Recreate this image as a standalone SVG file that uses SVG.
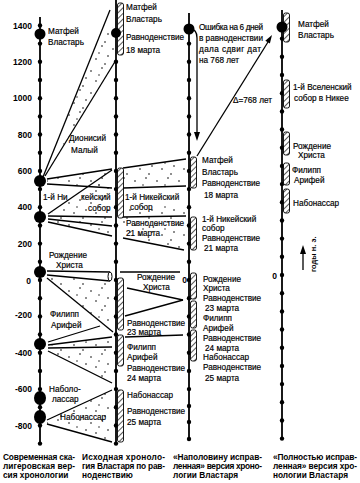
<svg xmlns="http://www.w3.org/2000/svg" width="360" height="483" viewBox="0 0 360 483">
<defs>
<pattern id="hatch" patternUnits="userSpaceOnUse" width="4" height="4" patternTransform="rotate(45)">
<rect width="4" height="4" fill="#fff"/><line x1="0" y1="0" x2="0" y2="4" stroke="#000" stroke-width="1.3"/>
</pattern>
<pattern id="stip" patternUnits="userSpaceOnUse" width="22" height="22">
<circle cx="3" cy="5" r="0.8"/><circle cx="14" cy="2" r="0.8"/><circle cx="20" cy="12" r="0.8"/><circle cx="8" cy="15" r="0.8"/><circle cx="17" cy="20" r="0.8"/><circle cx="11" cy="9" r="0.7"/>
</pattern>
<g id="tk"><circle r="2.2" fill="#000"/></g>
</defs>
<style>
.ax{stroke:#000;stroke-width:1.8;fill:none}
.wl{stroke:#000;stroke-width:1.3;fill:none}
.st{fill:url(#stip);stroke:none}
.hb{fill:url(#hatch);stroke:#000;stroke-width:0.9}
.big{fill:#000}
text{font-family:"Liberation Sans",Arial,sans-serif;fill:#000}
.t{font-size:8.2px;stroke:#000;stroke-width:0.18}
.yr{font-size:8.5px;font-weight:bold;text-anchor:end}
.cap{font-size:8.3px;font-weight:bold}
</style>
<rect width="360" height="483" fill="#fff"/>

<g id="connectors">
<polygon class="st" points="110,10 116,60 44,176"/>
<line class="wl" x1="110" y1="10" x2="43" y2="177"/>
<line class="wl" x1="116" y1="60" x2="45" y2="176"/>
<polygon class="st" points="47,179 112,169 112,188 47,184"/>
<line class="wl" x1="47" y1="179" x2="112" y2="169"/>
<line class="wl" x1="47" y1="184" x2="112" y2="188"/>
<polygon class="st" points="52,212 112,172 112,216 60,216"/>
<line class="wl" x1="48" y1="214" x2="112" y2="170"/>
<polygon class="st" points="48,217 112,217 112,236 48,222"/>
<line class="wl" x1="48" y1="216" x2="112" y2="217"/>
<line class="wl" x1="48" y1="219" x2="112" y2="226"/>
<line class="wl" x1="48" y1="222" x2="112" y2="236"/>
<polygon class="st" points="47,276 110,281 113,332 47,278"/>
<line class="wl" x1="47" y1="271" x2="110" y2="272"/>
<line class="wl" x1="47" y1="275" x2="110" y2="281"/>
<ellipse cx="110" cy="276.5" rx="2" ry="4.5" fill="#fff" stroke="#000" stroke-width="1"/>
<line class="wl" x1="47" y1="278" x2="113" y2="332"/>
<polygon class="st" points="48,346 112,338 112,383 48,351"/>
<line class="wl" x1="48" y1="342" x2="100" y2="326"/>
<line class="wl" x1="48" y1="345" x2="112" y2="337"/>
<line class="wl" x1="48" y1="348" x2="112" y2="347"/>
<line class="wl" x1="48" y1="351" x2="112" y2="383"/>
<polygon class="st" points="47,420 112,390 112,442 47,424"/>
<line class="wl" x1="47" y1="420" x2="112" y2="390"/>
<line class="wl" x1="47" y1="424" x2="112" y2="442"/>
<polygon class="st" points="123,168 186,159 186,186 123,188"/>
<line class="wl" x1="123" y1="168" x2="186" y2="159"/>
<line class="wl" x1="123" y1="188" x2="186" y2="186"/>
<polygon class="st" points="123,204 186,204 186,250 123,238"/>
<line class="wl" x1="123" y1="217" x2="186" y2="216"/>
<line class="wl" x1="123" y1="238" x2="184" y2="250"/>
<line class="wl" x1="120" y1="272" x2="180" y2="272"/>
<line class="wl" x1="127" y1="288" x2="183" y2="300"/>
<line class="wl" x1="125" y1="316" x2="183" y2="300"/>
<line class="wl" x1="125" y1="337" x2="183" y2="335"/>
<path class="wl" d="M190,29 Q197,29 197,38 L197,134"/>
<polygon points="194,132 200,132 197,141"/>
<line class="wl" x1="197" y1="156" x2="268" y2="42"/>
<polygon points="272,35 269.9,43.6 265.3,40.8"/>
<line class="wl" x1="303" y1="270" x2="303" y2="252"/>
<polygon points="300,254 306,254 303,245"/>
</g>

<g id="axis1">
<line class="ax" x1="40" y1="17" x2="40" y2="443.6"/>
<use href="#tk" x="40" y="25.5"/><use href="#tk" x="40" y="43.6"/><use href="#tk" x="40" y="61.8"/><use href="#tk" x="40" y="80"/><use href="#tk" x="40" y="98.2"/><use href="#tk" x="40" y="116.4"/><use href="#tk" x="40" y="134.5"/><use href="#tk" x="40" y="152.7"/><use href="#tk" x="40" y="170.9"/><use href="#tk" x="40" y="189.1"/><use href="#tk" x="40" y="207.3"/><use href="#tk" x="40" y="225.5"/><use href="#tk" x="40" y="243.6"/><use href="#tk" x="40" y="261.8"/><use href="#tk" x="40" y="280"/><use href="#tk" x="40" y="298.2"/><use href="#tk" x="40" y="316.4"/><use href="#tk" x="40" y="334.5"/><use href="#tk" x="40" y="352.7"/><use href="#tk" x="40" y="370.9"/><use href="#tk" x="40" y="389.1"/><use href="#tk" x="40" y="407.3"/><use href="#tk" x="40" y="425.5"/><use href="#tk" x="40" y="443.6"/>
<circle class="big" cx="40" cy="34" r="5.5"/>
<circle class="big" cx="40" cy="181" r="6"/>
<circle class="big" cx="40" cy="217" r="6"/>
<circle class="big" cx="40" cy="272" r="6"/>
<circle class="big" cx="40" cy="344" r="6"/>
<ellipse class="big" cx="40" cy="398" rx="6" ry="7"/>
<ellipse class="big" cx="40" cy="417" rx="6" ry="7"/>
<text class="yr" x="32" y="28.5">1400</text>
<text class="yr" x="32" y="64.8">1200</text>
<text class="yr" x="32" y="101.2">1000</text>
<text class="yr" x="32" y="137.5">800</text>
<text class="yr" x="32" y="173.9">600</text>
<text class="yr" x="32" y="210.3">400</text>
<text class="yr" x="32" y="246.6">200</text>
<text class="yr" x="31" y="284">0</text>
<text class="yr" x="32" y="318">-200</text>
<text class="yr" x="32" y="356">-400</text>
<text class="yr" x="32" y="392">-600</text>
<text class="yr" x="32" y="428.5">-800</text>
<text class="t" x="48" y="34">Матфей</text>
<text class="t" x="48" y="45">Властарь</text>
<text class="t" x="69" y="141">Дионисий</text>
<text class="t" x="71" y="153">Малый</text>
<text class="t" x="43" y="200">1-й Ни</text>
<text class="t" x="81" y="200">кейский</text>
<text class="t" x="88" y="211">собор</text>
<text class="t" x="49" y="258">Рождение</text>
<text class="t" x="56" y="268">Христа</text>
<text class="t" x="50" y="317">Филипп</text>
<text class="t" x="51" y="328">Арифей</text>
<text class="t" x="49" y="392">Наболо-</text>
<text class="t" x="52" y="402">лассар</text>
<text class="t" x="60" y="420">Набонассар</text>
</g>

<g id="axis2">
<line class="ax" x1="116" y1="0" x2="116" y2="443.6"/>
<use href="#tk" x="116" y="61.8"/><use href="#tk" x="116" y="80"/><use href="#tk" x="116" y="98.2"/><use href="#tk" x="116" y="116.4"/><use href="#tk" x="116" y="134.5"/><use href="#tk" x="116" y="152.7"/><use href="#tk" x="116" y="170.9"/><use href="#tk" x="116" y="189.1"/><use href="#tk" x="116" y="207.3"/><use href="#tk" x="116" y="225.5"/><use href="#tk" x="116" y="243.6"/><use href="#tk" x="116" y="261.8"/><use href="#tk" x="116" y="280"/><use href="#tk" x="116" y="298.2"/><use href="#tk" x="116" y="316.4"/><use href="#tk" x="116" y="334.5"/><use href="#tk" x="116" y="352.7"/><use href="#tk" x="116" y="370.9"/><use href="#tk" x="116" y="389.1"/><use href="#tk" x="116" y="407.3"/><use href="#tk" x="116" y="425.5"/><use href="#tk" x="116" y="443.6"/>
<rect class="hb" x="117.5" y="3" width="6" height="52" rx="2"/>
<rect class="hb" x="117.5" y="168" width="6" height="50" rx="2"/>
<rect class="hb" x="117.5" y="278" width="6" height="52" rx="2"/>
<rect class="hb" x="117.5" y="335" width="6" height="31" rx="2"/>
<rect class="hb" x="117.5" y="390" width="6" height="52" rx="2"/>
<circle class="big" cx="116" cy="33" r="5"/>
<text class="t" x="126" y="10">Матфей</text>
<text class="t" x="126" y="22">Властарь</text>
<text class="t" x="126" y="40">Равноденствие</text>
<text class="t" x="126" y="53">18 марта</text>
<text class="t" x="125" y="200">1-й Никейский</text>
<text class="t" x="130" y="210">собор</text>
<text class="t" x="126" y="226">Равноденствие</text>
<text class="t" x="126" y="236">21 марта</text>
<text class="t" x="137" y="280">Рождение</text>
<text class="t" x="143" y="290">Христа</text>
<text class="t" x="127" y="326">Равноденствие</text>
<text class="t" x="127" y="335">23 марта</text>
<text class="t" x="127" y="350">Филипп</text>
<text class="t" x="127" y="360">Арифей</text>
<text class="t" x="127" y="371">Равноденствие</text>
<text class="t" x="127" y="381">24 марта</text>
<text class="t" x="127" y="398">Набонассар</text>
<text class="t" x="127" y="414">Равноденствие</text>
<text class="t" x="127" y="425">25 марта</text>
</g>

<g id="axis3">
<line class="ax" x1="189" y1="13" x2="189" y2="440"/>
<use href="#tk" x="189" y="43.6"/><use href="#tk" x="189" y="61.8"/><use href="#tk" x="189" y="80"/><use href="#tk" x="189" y="98.2"/><use href="#tk" x="189" y="116.4"/><use href="#tk" x="189" y="134.5"/><use href="#tk" x="189" y="152.7"/><use href="#tk" x="189" y="170.9"/><use href="#tk" x="189" y="189.1"/><use href="#tk" x="189" y="207.3"/><use href="#tk" x="189" y="225.5"/><use href="#tk" x="189" y="243.6"/><use href="#tk" x="189" y="261.8"/><use href="#tk" x="189" y="280"/><use href="#tk" x="189" y="298.2"/><use href="#tk" x="189" y="316.4"/><use href="#tk" x="189" y="334.5"/><use href="#tk" x="189" y="352.7"/><use href="#tk" x="189" y="370.9"/><use href="#tk" x="189" y="389.1"/><use href="#tk" x="189" y="406"/><use href="#tk" x="189" y="422"/><use href="#tk" x="189" y="439"/>
<rect class="hb" x="190.5" y="157" width="6" height="31" rx="2"/>
<rect class="hb" x="190.5" y="217" width="6" height="33" rx="2"/>
<rect class="hb" x="190.5" y="273" width="6" height="26" rx="2"/>
<rect class="hb" x="190.5" y="301" width="6" height="27" rx="2"/>
<rect class="hb" x="190.5" y="330" width="6" height="31" rx="2"/>
<circle class="big" cx="189" cy="29" r="5.5"/>
<text class="yr" x="187" y="283">0</text>
<text class="t" x="199" y="30" textLength="64" lengthAdjust="spacing">Ошибка на 6 дней</text>
<text class="t" x="199" y="41" textLength="64" lengthAdjust="spacing">в равноденствии</text>
<text class="t" x="199" y="52" textLength="62" lengthAdjust="spacing">дала сдвиг дат</text>
<text class="t" x="199" y="63">на 768 лет</text>
<text class="t" x="202" y="163">Матфей</text>
<text class="t" x="202" y="175">Властарь</text>
<text class="t" x="202" y="186">Равноденствие</text>
<text class="t" x="204" y="198">18 марта</text>
<text class="t" x="202" y="222">1-й Никейский</text>
<text class="t" x="202" y="231">собор</text>
<text class="t" x="202" y="241">Равноденствие</text>
<text class="t" x="204" y="251">21 марта</text>
<text class="t" x="203" y="282">Рождение</text>
<text class="t" x="203" y="291">Христа</text>
<text class="t" x="203" y="301">Равноденствие</text>
<text class="t" x="205" y="311">23 марта</text>
<text class="t" x="203" y="321">Филипп</text>
<text class="t" x="203" y="331">Арифей</text>
<text class="t" x="203" y="341">Равноденствие</text>
<text class="t" x="205" y="351">24 марта</text>
<text class="t" x="203" y="360">Набонассар</text>
<text class="t" x="203" y="370">Равноденствие</text>
<text class="t" x="205" y="381">25 марта</text>
<text class="t" x="233" y="103">Δ=768 лет</text>
</g>

<g id="axis4">
<line class="ax" x1="282" y1="10" x2="282" y2="440"/>
<use href="#tk" x="282" y="38.6"/><use href="#tk" x="282" y="56.8"/><use href="#tk" x="282" y="75"/><use href="#tk" x="282" y="93.2"/><use href="#tk" x="282" y="111.4"/><use href="#tk" x="282" y="129.5"/><use href="#tk" x="282" y="147.7"/><use href="#tk" x="282" y="165.9"/><use href="#tk" x="282" y="184.1"/><use href="#tk" x="282" y="202.3"/><use href="#tk" x="282" y="220.5"/><use href="#tk" x="282" y="238.6"/><use href="#tk" x="282" y="256.8"/><use href="#tk" x="282" y="275"/><use href="#tk" x="282" y="293.2"/><use href="#tk" x="282" y="311.4"/><use href="#tk" x="282" y="329.5"/><use href="#tk" x="282" y="347.7"/><use href="#tk" x="282" y="365.9"/><use href="#tk" x="282" y="384.1"/><use href="#tk" x="282" y="402.3"/><use href="#tk" x="282" y="420.5"/><use href="#tk" x="282" y="438.6"/>
<rect class="hb" x="283.5" y="13" width="6" height="29" rx="2"/>
<rect class="hb" x="283.5" y="80" width="6" height="28" rx="2"/>
<rect class="hb" x="283.5" y="132" width="6" height="23" rx="2"/>
<rect class="hb" x="283.5" y="163" width="6" height="22" rx="2"/>
<rect class="hb" x="283.5" y="189" width="6" height="24" rx="2"/>
<circle class="big" cx="282" cy="27" r="5.5"/>
<text class="yr" x="277" y="279">0</text>
<text class="t" x="298" y="27">Матфей</text>
<text class="t" x="298" y="38">Властарь</text>
<text class="t" x="293" y="90">1-й Вселенский</text>
<text class="t" x="294" y="101">собор в Никее</text>
<text class="t" x="293" y="149">Рождение</text>
<text class="t" x="298" y="158">Христа</text>
<text class="t" x="292" y="173">Филипп</text>
<text class="t" x="294" y="183">Арифей</text>
<text class="t" x="293" y="206">Набонассар</text>
<text class="yr" transform="translate(316,272) rotate(-90)" style="text-anchor:start;font-size:7.5px">годы н. э.</text>
</g>

<g id="captions">
<text class="cap" x="3" y="460" textLength="72" lengthAdjust="spacing">Современная ска-</text>
<text class="cap" x="3" y="469" textLength="72" lengthAdjust="spacing">лигеровская вер-</text>
<text class="cap" x="3" y="478">сия хронологии</text>
<text class="cap" x="82" y="460" textLength="83" lengthAdjust="spacing">Исходная хроноло-</text>
<text class="cap" x="82" y="469" textLength="83" lengthAdjust="spacing">гия Властаря по рав-</text>
<text class="cap" x="82" y="478">ноденствию</text>
<text class="cap" x="173" y="460" textLength="89" lengthAdjust="spacing">«Наполовину исправ-</text>
<text class="cap" x="173" y="469" textLength="89" lengthAdjust="spacing">ленная» версия хроно-</text>
<text class="cap" x="173" y="478">логии Властаря</text>
<text class="cap" x="273" y="460" textLength="84" lengthAdjust="spacing">«Полностью исправ-</text>
<text class="cap" x="273" y="469" textLength="84" lengthAdjust="spacing">ленная» версия хро-</text>
<text class="cap" x="273" y="478">нологии Властаря</text>
</g>
</svg>
